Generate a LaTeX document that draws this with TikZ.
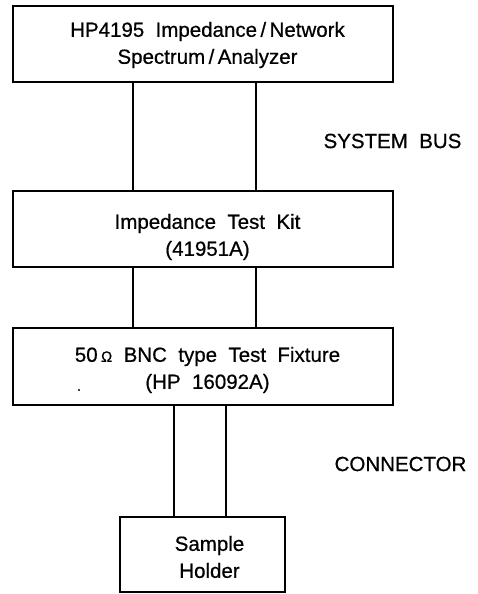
\documentclass[tikz,border=0pt]{standalone}
\usepackage{fontspec}
\setmainfont{Liberation Sans}
\begin{document}
\begin{tikzpicture}[x=1pt,y=-1pt,
  box/.style={draw, line width=1.4pt, minimum width=#1, inner sep=0pt},
  txt/.style={align=center, font=\fontsize{20.5}{27}\selectfont\addfontfeatures{FakeBold=0.6}, inner sep=0pt},
  wire/.style={line width=1.4pt}]
\useasboundingbox (0,0) rectangle (478,594);
\node[box=380pt, minimum height=76pt] (b1) at (203,44) {};
\node[box=380pt, minimum height=76pt] (b2) at (203,229) {};
\node[box=380pt, minimum height=77pt] (b3) at (203,366.5) {};
\node[box=165pt, minimum height=75pt] (b4) at (202.5,554.5) {};
\node[txt] (t1) at (207.5,45) {HP4195\ \ Impedance\,/\,Network\\Spectrum\,/\,Analyzer};
\node[txt] (t2) at (207.5,237) {Impedance\ \ Test\ \ Kit\\(41951A)};
\node[txt] (t3) at (207.5,370) {50\,{\fontsize{15}{15}\selectfont\addfontfeatures{FakeBold=0.6}Ω}\ \ BNC\ \ type\ \ Test\ \ Fixture\\(HP\ \ 16092A)};
\node[txt] (t4) at (209.5,557) {Sample\\Holder};
\node[txt] (sb) at (392.5,141) {SYSTEM\ \ BUS};
\node[txt] (cn) at (400.5,464) {CONNECTOR};
\coordinate (xa) at (133,0);
\coordinate (xb) at (256,0);
\coordinate (xc) at (174,0);
\coordinate (xd) at (226,0);
\draw[wire] (b1.south -| xa) -- (b2.north -| xa);
\draw[wire] (b1.south -| xb) -- (b2.north -| xb);
\draw[wire] (b2.south -| xa) -- (b3.north -| xa);
\draw[wire] (b2.south -| xb) -- (b3.north -| xb);
\draw[wire] (b3.south -| xc) -- (b4.north -| xc);
\draw[wire] (b3.south -| xd) -- (b4.north -| xd);
\fill (79,390) circle (1.1pt);
\end{tikzpicture}
\end{document}
